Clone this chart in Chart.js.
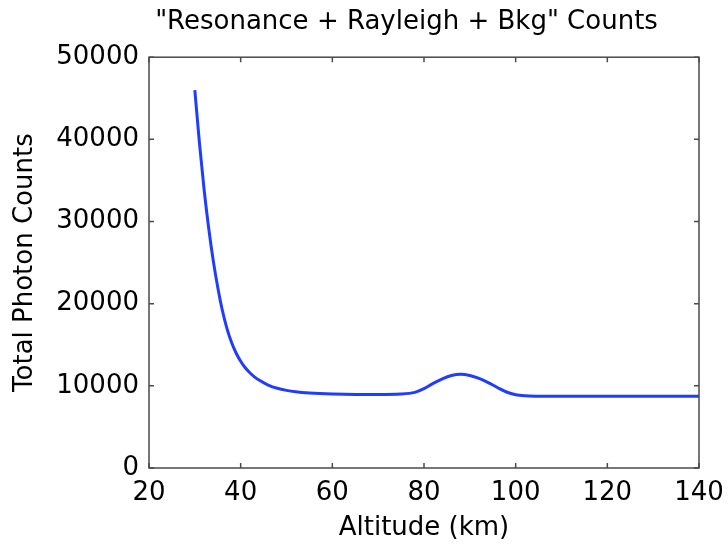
<!DOCTYPE html>
<html>
<head>
<meta charset="utf-8">
<script src="https://cdn.jsdelivr.net/npm/chart.js@4.4.1/dist/chart.umd.min.js"></script>
<style>
  html, body { margin: 0; padding: 0; background: #ffffff; }
  #wrap { width: 728px; height: 545px; }
</style>
</head>
<body>
<div id="wrap"><canvas id="c" width="728" height="545"></canvas></div>
<script>
// Altitude (km)
const altitudes = [30, 31, 32, 33, 34, 35, 36, 37, 38, 39, 40, 41, 42, 43, 44, 46, 48, 50, 52, 55, 60, 65, 70, 75, 78, 80, 82, 84, 86, 88, 90, 92, 94, 96, 98, 100, 102, 105, 110, 120, 130, 140];
// Total photon counts
const counts = [46000, 39600, 34000, 29300, 25300, 22000, 19200, 17000, 15300, 14000, 13000, 12200, 11600, 11100, 10700, 10100, 9700, 9450, 9280, 9130, 9000, 8950, 8950, 9000, 9200, 9650, 10300, 10850, 11250, 11400, 11250, 10900, 10400, 9800, 9250, 8920, 8790, 8740, 8720, 8720, 8720, 8720];
const xTicks = [20, 40, 60, 80, 100, 120, 140];
const yTicks = [0, 10000, 20000, 30000, 40000, 50000];
const titleText = '"Resonance + Rayleigh + Bkg" Counts';
const xLabel = 'Altitude (km)';
const yLabel = 'Total Photon Counts';

const FONT = 'DejaVu Sans';
const points = altitudes.map((a, i) => ({ x: a, y: counts[i] }));

const boxPlugin = {
  id: 'boxTicks',
  afterLayout(chart) {
    const t = chart.titleBlock;
    if (t) { t.left = 114; t.right = 699; }
  },
  afterDatasetsDraw(chart) {
    const { ctx, chartArea: ca, scales } = chart;
    ctx.save();
    ctx.strokeStyle = '#4a4a4a';
    ctx.lineWidth = 1.5;
    ctx.strokeRect(ca.left, ca.top, ca.right - ca.left, ca.bottom - ca.top);
    const tl = 5;
    ctx.beginPath();
    xTicks.forEach(v => {
      const px = scales.x.getPixelForValue(v);
      ctx.moveTo(px, ca.bottom); ctx.lineTo(px, ca.bottom - tl);
      ctx.moveTo(px, ca.top); ctx.lineTo(px, ca.top + tl);
    });
    yTicks.forEach(v => {
      const py = scales.y.getPixelForValue(v);
      ctx.moveTo(ca.left, py); ctx.lineTo(ca.left + tl, py);
      ctx.moveTo(ca.right, py); ctx.lineTo(ca.right - tl, py);
    });
    ctx.stroke();
    ctx.restore();
  }
};

new Chart(document.getElementById('c'), {
  type: 'line',
  data: {
    datasets: [{
      data: points,
      borderColor: '#1f3cff',
      borderWidth: 3,
      pointRadius: 0,
      fill: false,
      cubicInterpolationMode: 'monotone'
    }]
  },
  options: {
    responsive: false,
    animation: false,
    devicePixelRatio: 1,
    layout: { padding: { left: 0, right: 29, top: 0, bottom: 0 } },
    plugins: {
      legend: { display: false },
      tooltip: { enabled: false },
      title: {
        display: true,
        text: titleText,
        color: '#000',
        font: { family: FONT, size: 26, weight: 'normal', lineHeight: 1.2 },
        padding: { top: 7, bottom: 19 }
      }
    },
    scales: {
      x: {
        type: 'linear',
        min: 20, max: 140,
        afterBuildTicks(s) { s.ticks = xTicks.map(v => ({ value: v })); },
        afterFit(s) { s.height = 77; s.paddingLeft = 0; s.paddingRight = 0; },
        grid: { display: false, drawTicks: false },
        border: { display: false },
        ticks: { color: '#000', padding: 10, maxRotation: 0, autoSkip: false, font: { family: FONT, size: 26 } },
        title: { display: true, text: xLabel, color: '#000', font: { family: FONT, size: 26 }, padding: { top: 0, bottom: 1 } }
      },
      y: {
        type: 'linear',
        min: 0, max: 50000,
        afterBuildTicks(s) { s.ticks = yTicks.map(v => ({ value: v })); },
        afterFit(s) { s.width = 149; s.paddingTop = 0; s.paddingBottom = 0; },
        grid: { display: false, drawTicks: false },
        border: { display: false },
        ticks: { color: '#000', padding: 10, autoSkip: false, font: { family: FONT, size: 26 }, callback: v => String(v) },
        title: { display: true, text: yLabel, color: '#000', font: { family: FONT, size: 26 }, padding: { top: 10, bottom: 0 } }
      }
    }
  },
  plugins: [boxPlugin]
});
</script>
</body>
</html>
